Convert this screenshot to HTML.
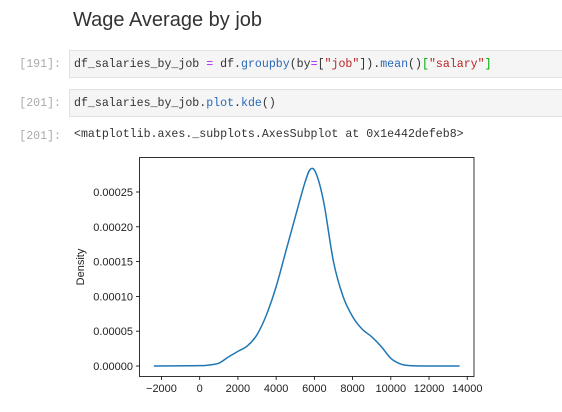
<!DOCTYPE html>
<html><head><meta charset="utf-8"><style>
body{margin:0;width:562px;height:412px;background:#fff;position:relative;overflow:hidden;font-family:"Liberation Sans",sans-serif}
.t{position:absolute;white-space:pre}
.mono{font-family:"Liberation Mono",monospace;font-size:11.6px}
.pr{color:#aaa;right:501px;text-align:right}
.cell{position:absolute;left:69px;width:500px;background:#f5f5f5;border:1px solid #e0e0e0;box-sizing:border-box}
</style></head><body>
<div class="t" style="left:73px;top:9px;font-size:20px;color:#333">Wage Average by job</div>
<div class="t mono pr" style="top:58px">[191]:</div>
<div class="cell" style="top:50px;height:28px"></div>
<div class="t mono" style="left:74px;top:58px;color:#333">df_salaries_by_job <span style="color:#a2f">=</span> df.<span style="color:#2a68b8">groupby</span>(by<span style="color:#a2f">=</span>[<span style="color:#b22">"job"</span>]).<span style="color:#2a68b8">mean</span>()<span style="color:#0a0">[</span><span style="color:#b22">"salary"</span><span style="color:#0a0">]</span></div>
<div class="t mono pr" style="top:97px">[201]:</div>
<div class="cell" style="top:89px;height:28px"></div>
<div class="t mono" style="left:74px;top:97px;color:#333">df_salaries_by_job.<span style="color:#2a68b8">plot</span>.<span style="color:#2a68b8">kde</span>()</div>
<div class="t mono pr" style="top:130px">[201]:</div>
<div class="t mono" style="left:74px;top:128px;color:#333">&lt;matplotlib.axes._subplots.AxesSubplot at 0x1e442defeb8&gt;</div>
<svg id="chart" width="562" height="412" style="position:absolute;left:0;top:0" font-family="Liberation Sans, sans-serif"></svg>
<script>
const xs=[-2400,0,500,1000,1500,2000,2500,3000,3500,4000,4500,5000,5500,5800,6100,6500,7000,7500,8000,8500,9000,9500,10000,10500,11000,12000,13600];
const ys=[0,0.05,0.15,0.4,1.3,2.1,2.9,4.5,7.4,11.4,16.4,21.4,26.3,28.3,27.6,23.4,15,10,7.1,5.3,4.2,2.8,1.1,0.3,0.05,0,0];
const xTicks=[-2000,0,2000,4000,6000,8000,10000,12000,14000];
const yTicks=[0,5,10,15,20,25];
const X=v=>199.7+v*0.01911;
const Y=v=>366-v*(366-192)/25;
const s=document.getElementById('chart');const ns='http://www.w3.org/2000/svg';
function mk(t,a){const e=document.createElementNS(ns,t);for(const k in a)e.setAttribute(k,a[k]);s.appendChild(e);return e;}
const box=mk('rect',{x:139.5,y:157.5,width:334.5,height:219,fill:'none',stroke:'#000','stroke-width':0.8});


xTicks.forEach(v=>{const x=X(v);
const l=mk('line',{x1:x,x2:x,y1:376.5,y2:380,stroke:'#000','stroke-width':0.8});


const t=mk('text',{x:x,y:392,'font-size':11,'text-anchor':'middle',fill:'#222'});t.textContent=v<0?'\u2212'+(-v):v;

});
yTicks.forEach(v=>{const y=Y(v);
const l=mk('line',{x1:136,x2:139.5,y1:y,y2:y,stroke:'#000','stroke-width':0.8});


const t=mk('text',{x:133,y:y+4,'font-size':11,'text-anchor':'end',fill:'#222'});t.textContent=(v*1e-5).toFixed(5);

});
const yl=mk('text',{x:0,y:0,'font-size':11,'text-anchor':'middle',fill:'#222',transform:'translate(84,267) rotate(-90)'});yl.textContent='Density';


const P=xs.map((x,i)=>[X(x),Y(ys[i])]);let d='M'+P[0][0]+','+P[0][1];
for(let i=0;i<P.length-1;i++){const p0=P[Math.max(0,i-1)],p1=P[i],p2=P[i+1],p3=P[Math.min(P.length-1,i+2)];
d+=` C${p1[0]+(p2[0]-p0[0])/6},${p1[1]+(p2[1]-p0[1])/6} ${p2[0]-(p3[0]-p1[0])/6},${p2[1]-(p3[1]-p1[1])/6} ${p2[0]},${p2[1]}`;}
const c=mk('path',{d:d,fill:'none',stroke:'#1f77b4','stroke-width':1.5});


</script>
</body></html>
